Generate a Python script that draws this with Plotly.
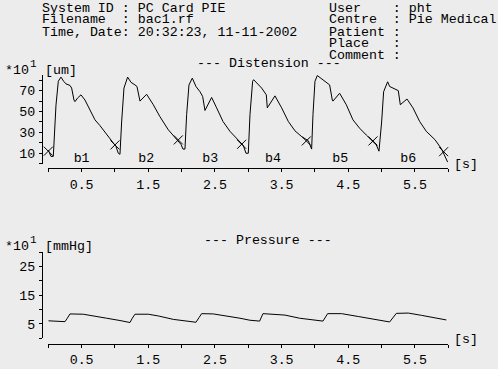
import plotly.graph_objects as go

# ---------------- data ----------------
dist_t = [0.00, 0.04, 0.075, 0.085, 0.115, 0.15, 0.19, 0.23, 0.265, 0.325, 0.35, 0.385, 0.40, 0.44, 0.49,
          0.55, 0.625, 0.70, 0.775, 0.865, 0.95, 1.015, 1.05, 1.075,
          1.10, 1.135, 1.19, 1.24, 1.30, 1.33, 1.375, 1.42, 1.475, 1.575, 1.675, 1.80, 1.925, 1.99, 2.02, 2.05,
          2.075, 2.11, 2.16, 2.215, 2.275, 2.315, 2.35, 2.45, 2.525, 2.62, 2.725, 2.825, 2.925, 2.965, 3.0,
          3.025, 3.065, 3.08, 3.135, 3.20, 3.27, 3.285, 3.30, 3.40, 3.50, 3.60, 3.70, 3.80, 3.90, 3.95,
          3.97, 4.00, 4.035, 4.12, 4.22, 4.26, 4.27, 4.37, 4.47, 4.57, 4.67, 4.77, 4.87, 4.92, 4.96,
          5.00, 5.03, 5.09, 5.12, 5.18, 5.25, 5.28, 5.38, 5.47, 5.57, 5.67, 5.80, 5.90, 5.99]
dist_v = [13, 7, 7, 18, 56, 79, 83, 79, 76.5, 75, 72.5, 61, 59.5, 63, 66,
          61, 51.5, 42, 36.5, 29, 23, 16.5, 10, 9,
          40, 72.5, 83, 78, 75.5, 74, 60, 63, 66.5, 56.5, 45, 32.5, 23, 18.5, 14, 14,
          47, 75.5, 82, 74, 69, 64.5, 51, 63.5, 53.5, 40.5, 31, 24.5, 17.5, 10, 10,
          47, 79, 80.5, 76.5, 72.5, 66, 53.5, 55, 65, 53.5, 40.5, 31.5, 26, 22, 14,
          47, 79, 84.5, 80.5, 75.5, 61, 60, 67.5, 56.5, 42, 34, 27.5, 21, 18, 12,
          40, 69, 78.5, 74, 72.5, 70, 56.5, 62, 53.5, 40.5, 31, 23, 14, 1.5]

cross_t = [0.0, 1.0, 1.95, 2.9, 3.87, 4.87, 5.93]
cross_v = [12, 18, 22.8, 18.6, 21.8, 21.8, 11.5]

beat_names = ["b1", "b2", "b3", "b4", "b5", "b6"]
beat_t = [0.5, 1.47, 2.43, 3.37, 4.38, 5.4]
beat_v = [4.5, 4.5, 4.5, 4.5, 4.5, 4.5]

pres_t = [0.0, 0.25, 0.285, 0.325, 0.525, 0.675, 0.875, 1.075, 1.225, 1.26, 1.30, 1.50, 1.65, 1.875,
          2.075, 2.215, 2.26, 2.30, 2.475, 2.675, 2.875, 3.025, 3.17, 3.22, 3.35, 3.55, 3.77, 3.95,
          4.12, 4.19, 4.40, 4.65, 4.90, 5.12, 5.22, 5.40, 5.60, 5.80, 5.97]
pres_v = [6.1, 5.8, 7.0, 8.5, 8.4, 7.9, 7.0, 6.2, 5.5, 7.0, 8.4, 8.4, 7.8, 6.6,
          6.0, 5.6, 7.2, 8.6, 8.5, 7.8, 7.0, 6.3, 6.0, 8.6, 8.5, 8.1, 7.0, 6.4,
          6.0, 8.6, 8.6, 7.6, 6.6, 5.7, 8.7, 8.8, 8.0, 7.0, 6.4]

x_tick_vals = [0, 0.5, 1, 1.5, 2, 2.5, 3, 3.5, 4, 4.5, 5, 5.5, 6]
x_tick_text = ["", "0.5", "", "1.5", "", "2.5", "", "3.5", "", "4.5", "", "5.5", ""]
d_tick_vals = [0, 10, 20, 30, 40, 50, 60, 70, 80]
d_tick_text = ["", "10", "", "30", "", "50", "", "70", ""]
p_tick_vals = [0, 5, 10, 15, 20, 25, 30]
p_tick_text = ["", "5", "", "15", "", "25", ""]

header_left = ["System\u00a0ID\u00a0:\u00a0PC\u00a0Card\u00a0PIE",
               "Filename\u00a0\u00a0:\u00a0bac1.rf",
               "Time,\u00a0Date:\u00a020:32:23,\u00a011-11-2002"]
header_right = ["User\u00a0\u00a0\u00a0\u00a0:\u00a0pht",
                "Centre\u00a0\u00a0:\u00a0Pie\u00a0Medical",
                "Patient\u00a0:",
                "Place\u00a0\u00a0\u00a0:",
                "Comment\u00a0:"]

# ---------------- layout helpers ----------------
W, H = 498, 369
BG = "#ECECEC"
FONT = dict(family="Liberation Mono, Courier New, monospace", size=13.3, color="black")


def px(x):
    return x / W


def py(y):
    return 1 - y / H


fig = go.Figure()
fig.add_trace(go.Scatter(x=dist_t, y=dist_v, mode="lines", line=dict(color="black", width=1),
                         xaxis="x", yaxis="y", showlegend=False, hoverinfo="skip"))
fig.add_trace(go.Scatter(x=cross_t, y=cross_v, mode="markers",
                         marker=dict(symbol="x-thin", size=9, line=dict(color="black", width=1), color="black"),
                         xaxis="x", yaxis="y", showlegend=False, cliponaxis=False, hoverinfo="skip"))
fig.add_trace(go.Scatter(x=beat_t, y=beat_v, mode="text", text=beat_names, textfont=FONT,
                         xaxis="x", yaxis="y", showlegend=False, cliponaxis=False, hoverinfo="skip"))
fig.add_trace(go.Scatter(x=pres_t, y=pres_v, mode="lines", line=dict(color="black", width=1),
                         xaxis="x2", yaxis="y2", showlegend=False, hoverinfo="skip"))

x_dom = [px(48.3), px(448.3)]
common_ax = dict(showline=True, linecolor="black", linewidth=1, ticks="outside", ticklen=3,
                 tickcolor="black", tickwidth=1, showgrid=False, zeroline=False, tickfont=FONT,
                 anchor="free", fixedrange=True)

fig.update_layout(
    width=W, height=H, autosize=False,
    margin=dict(l=0, r=0, t=0, b=0, pad=0),
    paper_bgcolor=BG, plot_bgcolor=BG,
    font=FONT,
    xaxis=dict(domain=x_dom, range=[0, 6], position=py(168), tickvals=x_tick_vals,
               ticktext=x_tick_text, ticklabelstandoff=1, **common_ax),
    yaxis=dict(domain=[py(163.7), py(75)], range=[0, 85], position=px(42), tickvals=d_tick_vals,
               ticktext=d_tick_text, ticklabelstandoff=1, **common_ax),
    xaxis2=dict(domain=x_dom, range=[0, 6], position=py(344), tickvals=x_tick_vals,
                ticktext=x_tick_text, ticklabelstandoff=0, **common_ax),
    yaxis2=dict(domain=[py(338.3), py(252.3)], range=[0, 30], position=px(42), tickvals=p_tick_vals,
                ticktext=p_tick_text, ticklabelstandoff=1, **common_ax),
)

ann = []


def txt(s, x, y, xanchor="left", size=None):
    f = dict(FONT)
    if size:
        f["size"] = size
    ann.append(dict(text=s, x=px(x), y=py(y), xref="paper", yref="paper", xanchor=xanchor,
                    yanchor="middle", showarrow=False, font=f))


for i, s in enumerate(header_left):
    txt(s, 40, 8 + 12 * i)
for i, s in enumerate(header_right):
    txt(s, 327, 8 + 12 * i)

txt("--- Distension ---", 268.7, 63.5, xanchor="center")
txt("--- Pressure ---", 268, 240, xanchor="center")

for yb in (70, 246):
    txt("*10", 3, yb)
    txt("1", 28, yb - 6, size=11)
txt("[um]", 43, 70)
txt("[mmHg]", 43, 246)
txt("[s]", 452, 164)
txt("[s]", 452, 339)

fig.update_layout(annotations=ann)
fig.write_html("out.html")
